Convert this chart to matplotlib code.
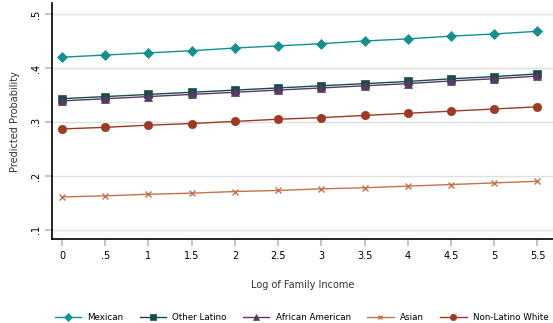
import numpy as np
import matplotlib
matplotlib.use("Agg")
import matplotlib.pyplot as plt

# valores
income = [0, .5, 1, 1.5, 2, 2.5, 3, 3.5, 4, 4.5, 5, 5.5]
mexican = [.420, .424, .428, .432, .437, .441, .445, .450, .454, .459, .463, .468]
other_latino = [.343, .347, .351, .355, .359, .363, .367, .371, .375, .380, .384, .389]
african_american = [.339, .343, .347, .351, .355, .359, .363, .367, .371, .376, .380, .385]
asian = [.161, .163, .166, .168, .171, .173, .176, .178, .181, .184, .187, .190]
nonlatino_white = [.287, .290, .294, .297, .301, .305, .308, .312, .316, .320, .324, .328]

xticks = [0, .5, 1, 1.5, 2, 2.5, 3, 3.5, 4, 4.5, 5, 5.5]
xtick_labels = ["0", ".5", "1", "1.5", "2", "2.5", "3", "3.5", "4", "4.5", "5", "5.5"]
yticks = [.1, .2, .3, .4, .5]
ytick_labels = [".1", ".2", ".3", ".4", ".5"]

plt.rcParams['font.family'] = ['DejaVu Sans']

fig = plt.figure(figsize=(5.53, 3.23), dpi=100)
ax = fig.add_axes([0.094, 0.26, 0.906, 0.73])

series = [
    ("Mexican", mexican, "#13918f", "D", 5),
    ("Other Latino", other_latino, "#1c4a4c", "s", 5.5),
    ("African American", african_american, "#5a3963", "^", 6),
    ("Asian", asian, "#c4744a", "x", 4),
    ("Non-Latino White", nonlatino_white, "#9c3a25", "o", 6),
]
for name, vals, col, mk, ms in series:
    ax.plot(income, vals, color=col, marker=mk, markersize=ms, lw=1.0,
            markeredgewidth=1.0 if mk == "x" else 0.5, label=name)

ax.set_xlim(-0.116, 5.68)
ax.set_ylim(0.083, 0.52)
ax.set_xticks(xticks)
ax.set_xticklabels(xtick_labels, fontsize=7)
ax.set_yticks(yticks)
ax.set_yticklabels(ytick_labels, fontsize=7, rotation=90, va="center")
ax.grid(axis="y", color="#e0e0e0", lw=1)
ax.set_axisbelow(True)
ax.tick_params(axis="both", color="#bbbbbb", length=5, width=1.2)
ax.tick_params(axis="y", pad=3)
for s in ["top", "right"]:
    ax.spines[s].set_visible(False)
ax.spines["left"].set_linewidth(1.2)
ax.spines["bottom"].set_linewidth(1.2)

ax.set_xlabel("Log of Family Income", fontsize=7, color="#333333", labelpad=14)
ax.set_ylabel("Predicted Probability", fontsize=7, color="#333333", labelpad=8)

leg = fig.legend(loc="lower center", bbox_to_anchor=(0.545, -0.02), ncol=5, frameon=False,
                 fontsize=6.3, handlelength=3.0, columnspacing=1.9, handletextpad=0.7,
                 markerscale=0.75)

fig.savefig("out.png", dpi=100)
